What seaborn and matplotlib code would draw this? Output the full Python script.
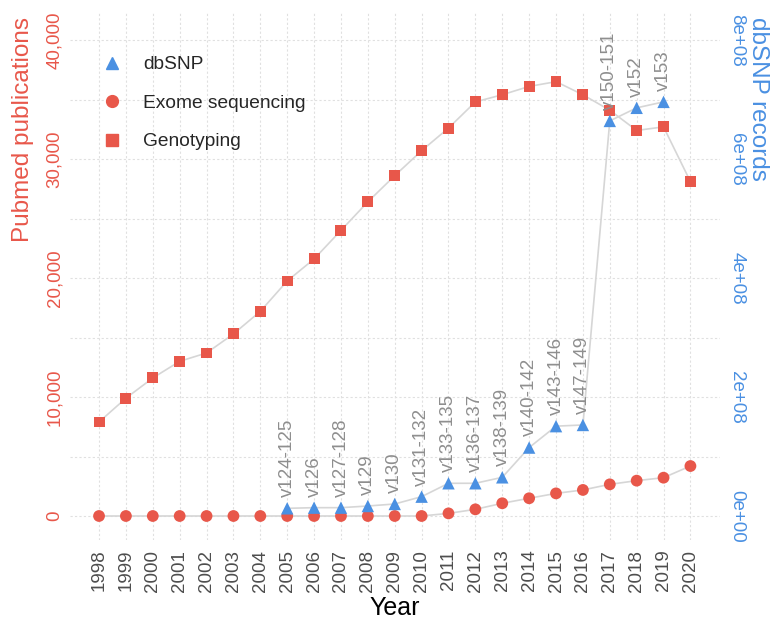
import numpy as np
import pandas as pd
import matplotlib
matplotlib.use("Agg")
import matplotlib.pyplot as plt
import seaborn as sns
from matplotlib.lines import Line2D

# ---------------- data ----------------
years = list(range(1998, 2021))
genotyping = [7900, 9900, 11600, 13000, 13700, 15300, 17200, 19750, 21600, 24000,
              26400, 28600, 30700, 32600, 34800, 35400, 36100, 36500, 35400, 34100,
              32400, 32700, 28100]
exome = [0, 0, 0, 0, 0, 0, 0, 0, 0, 0, 0, 0, 0, 220, 560, 1070, 1490, 1900, 2190,
         2660, 2970, 3220, 4200]
dbsnp_years = list(range(2005, 2020))
dbsnp_records = [12.9e6, 14e6, 14e6, 16.8e6, 20.2e6, 32.5e6, 55e6, 55e6, 65e6,
                 115e6, 151e6, 153e6, 664e6, 686e6, 696e6]
dbsnp_versions = ["v124-125", "v126", "v127-128", "v129", "v130", "v131-132",
                  "v133-135", "v136-137", "v138-139", "v140-142", "v143-146",
                  "v147-149", "v150-151", "v152", "v153"]
left_ticks = [0, 10000, 20000, 30000, 40000]
left_ticklabels = ["0", "10,000", "20,000", "30,000", "40,000"]
right_ticks = [0, 2e8, 4e8, 6e8, 8e8]
right_ticklabels = ["0e+00", "2e+08", "4e+08", "6e+08", "8e+08"]
scale_ratio = 20000  # dbSNP records per publication unit on the shared scale

# ---------------- style ----------------
sns.set_style("white")
plt.rcParams["font.family"] = ["Liberation Sans", "DejaVu Sans"]

RED = "#E8574A"
BLUE = "#4A90E2"
LINE = "#D6D6D6"
GRID = "#E0E0E0"
LABEL_GREY = "#8E8E8E"

fig = plt.figure(figsize=(7.71, 6.21), dpi=100)
W, H = 771, 621
px_l, px_r, px_t, px_b = 70, 720, 13, 540
ax = fig.add_axes([px_l / W, 1 - px_b / H, (px_r - px_l) / W, (px_b - px_t) / H])
ax2 = ax.twinx()

df = pd.DataFrame({"Year": years, "Genotyping": genotyping, "Exome": exome})
dfs = pd.DataFrame({"Year": dbsnp_years, "records": dbsnp_records, "ver": dbsnp_versions})

# lines
sns.lineplot(data=df, x="Year", y="Genotyping", color=LINE, linewidth=1.2, ax=ax, zorder=2)
sns.lineplot(data=df, x="Year", y="Exome", color=LINE, linewidth=1.2, ax=ax, zorder=2)
sns.lineplot(data=dfs, x="Year", y="records", color=LINE, linewidth=1.2, ax=ax2, zorder=2)

# markers
sns.scatterplot(data=df, x="Year", y="Genotyping", marker="s", color=RED, s=62,
                edgecolor="none", ax=ax, zorder=3)
sns.scatterplot(data=df, x="Year", y="Exome", marker="o", color=RED, s=72,
                edgecolor="none", ax=ax, zorder=3)
sns.scatterplot(data=dfs, x="Year", y="records", marker="^", color=BLUE, s=80,
                edgecolor="none", ax=ax2, zorder=3)

# version labels
for xv, yv, t in zip(dfs["Year"], dfs["records"], dfs["ver"]):
    ax2.annotate(t, (xv, yv), xytext=(0, 8), textcoords="offset points",
                 rotation=90, ha="center", va="bottom", color=LABEL_GREY,
                 fontsize=13.5)

# limits
ylo, yhi = -2017, 42270
ax.set_xlim(1996.92, 2021.1)
ax.set_ylim(ylo, yhi)
ax2.set_ylim(ylo * scale_ratio, yhi * scale_ratio)

# grid
ax.set_xticks(years)
ax.set_xticklabels([str(y) for y in years], rotation=90, fontsize=13.5, color="#4D4D4D")
ax.set_yticks(left_ticks)
ax.set_yticklabels(left_ticklabels, rotation=90, va="center", fontsize=13.5, color=RED)
ax.set_yticks([5000, 15000, 25000, 35000], minor=True)
ax.grid(True, which="major", color=GRID, linestyle=(0, (2, 2)), linewidth=0.8)
ax.grid(True, which="minor", axis="y", color=GRID, linestyle=(0, (2, 2)), linewidth=0.8)
ax.tick_params(axis="both", which="both", length=0)
ax.tick_params(axis="x", pad=7)
ax.tick_params(axis="y", pad=5)

ax2.set_yticks(right_ticks)
ax2.set_yticklabels(right_ticklabels, rotation=270, va="center", fontsize=13.5, color=BLUE)
ax2.tick_params(axis="y", length=0, pad=6)
ax2.grid(False)

for a in (ax, ax2):
    for s in a.spines.values():
        s.set_visible(False)

# axis titles
ax.set_xlabel("Year", fontsize=18, color="black")
ax.xaxis.set_label_coords(0.5, -0.129)
ax.xaxis.label.set_va("center")

yl = ax.set_ylabel("Pubmed publications", fontsize=17.5, color=RED)
ax.yaxis.set_label_coords(-0.072, 0.992)
yl.set_rotation_mode("anchor")
yl.set_ha("right")
yl.set_va("center")

yr = ax2.set_ylabel("dbSNP records", fontsize=17.5, color=BLUE, rotation=270)
ax2.yaxis.set_label_coords(1.0585, 0.992)
yr.set_rotation_mode("anchor")
yr.set_ha("left")
yr.set_va("center")

# legend
handles = [
    Line2D([], [], marker="^", color=BLUE, linestyle="none", markersize=9),
    Line2D([], [], marker="o", color=RED, linestyle="none", markersize=8.5),
    Line2D([], [], marker="s", color=RED, linestyle="none", markersize=8),
]
labels = ["dbSNP", "Exome sequencing", "Genotyping"]
leg = ax2.legend(handles, labels, loc="upper left",
                 bbox_to_anchor=(102 / W, 1 - 56 / H), bbox_transform=fig.transFigure,
                 frameon=False, fontsize=13.8, handlelength=1.0, handletextpad=1.15,
                 labelspacing=1.1, borderaxespad=0, borderpad=0)

fig.savefig("out.png", dpi=100)
